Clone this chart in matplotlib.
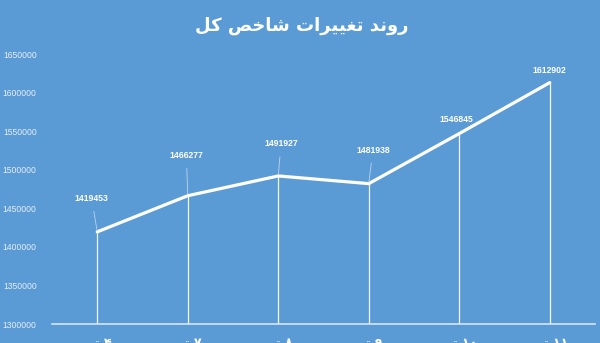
import matplotlib
matplotlib.use("Agg")
import matplotlib.pyplot as plt

# ---- data ----
categories = ["۴ تیر", "۷ تیر", "۸ تیر", "۹ تیر", "۱۰ تیر", "۱۱ تیر"]
values = [1419453, 1466277, 1491927, 1481938, 1546845, 1612902]
title_text = "روند تغییرات شاخص کل"
yticks = [1300000, 1350000, 1400000, 1450000, 1500000, 1550000, 1600000, 1650000]
# label offsets (points) relative to data point
label_offsets = [(-4, 24), (-1, 29), (2, 23), (3, 24), (-2, 10), (0, 9)]
leader = [True, True, True, True, False, False]

# ---- minimal Arabic/Persian shaping (matplotlib has no shaping) ----
FORMS = {  # iso, fin, init, med
    'ر': ('\uFEAD', '\uFEAE', None, None),
    'و': ('\uFEED', '\uFEEE', None, None),
    'د': ('\uFEA9', '\uFEAA', None, None),
    'ا': ('\uFE8D', '\uFE8E', None, None),
    'ن': ('\uFEE5', '\uFEE6', '\uFEE7', '\uFEE8'),
    'ت': ('\uFE95', '\uFE96', '\uFE97', '\uFE98'),
    'غ': ('\uFECD', '\uFECE', '\uFECF', '\uFED0'),
    'ی': ('\uFBFC', '\uFBFD', '\uFBFE', '\uFBFF'),
    'ش': ('\uFEB5', '\uFEB6', '\uFEB7', '\uFEB8'),
    'خ': ('\uFEA5', '\uFEA6', '\uFEA7', '\uFEA8'),
    'ص': ('\uFEB9', '\uFEBA', '\uFEBB', '\uFEBC'),
    'ک': ('\uFB8E', '\uFB8F', '\uFB90', '\uFB91'),
    'ل': ('\uFEDD', '\uFEDE', '\uFEDF', '\uFEE0'),
}


def shape_word(w):
    out = []
    for i, ch in enumerate(w):
        if ch not in FORMS:
            out.append(ch)
            continue
        f = FORMS[ch]
        prev = w[i - 1] if i > 0 else None
        nxt = w[i + 1] if i + 1 < len(w) else None
        joins_prev = prev in FORMS and FORMS[prev][2] is not None
        joins_next = nxt in FORMS and f[2] is not None
        if joins_prev and joins_next:
            out.append(f[3])
        elif joins_prev:
            out.append(f[1])
        elif joins_next:
            out.append(f[2])
        else:
            out.append(f[0])
    return "".join(out)


def rtl(text):
    words = text.split(" ")
    shaped = []
    for w in words:
        if any(ch in FORMS for ch in w):
            shaped.append(shape_word(w)[::-1])
        else:
            shaped.append(w)  # digits stay LTR
    return " ".join(shaped[::-1])


bg = "#5B9BD5"
fig = plt.figure(figsize=(6, 3.43), dpi=100, facecolor=bg)
ax = fig.add_axes([52 / 600, 1 - 324 / 343, 543 / 600, 270 / 343])
ax.set_facecolor(bg)

x = list(range(len(categories)))
ax.plot(x, values, color="white", lw=2.3, solid_capstyle="round", zorder=3)
ax.vlines(x, yticks[0], values, color="#F2F6FB", lw=0.9, zorder=2)

for xi, v, (dx, dy), ld in zip(x, values, label_offsets, leader):
    ax.annotate(str(v), (xi, v), xytext=(dx, dy), textcoords="offset points",
                ha="center", va="center", color="white", fontsize=6.2,
                family="Liberation Sans", fontweight="bold",
                arrowprops=(dict(arrowstyle="-", color="#BFD3EA", lw=0.6,
                                 shrinkA=4, shrinkB=1) if ld else None))

ax.set_xlim(-0.5, len(categories) - 0.5)
ax.set_ylim(yticks[0], yticks[-1])
ax.set_yticks(yticks)
ax.set_yticklabels([str(t) for t in yticks], family="Liberation Sans",
                   fontsize=6.2, color="#E6EEF8")
ax.set_xticks(x)
ax.set_xticklabels([rtl(c) for c in categories], family="DejaVu Sans",
                   fontweight="bold", fontsize=9, color="white")
ax.tick_params(axis="both", length=0)
ax.tick_params(axis="y", pad=11)
ax.tick_params(axis="x", pad=9)
for s in ["top", "right", "left"]:
    ax.spines[s].set_visible(False)
ax.spines["bottom"].set_color("#D6E4F4")
ax.spines["bottom"].set_linewidth(1.2)

fig.text(0.503, 1 - 26 / 343, rtl(title_text), ha="center", va="center",
         color="white", fontsize=13, fontweight="bold", family="DejaVu Sans")

fig.savefig("out.png", dpi=100, facecolor=bg)
